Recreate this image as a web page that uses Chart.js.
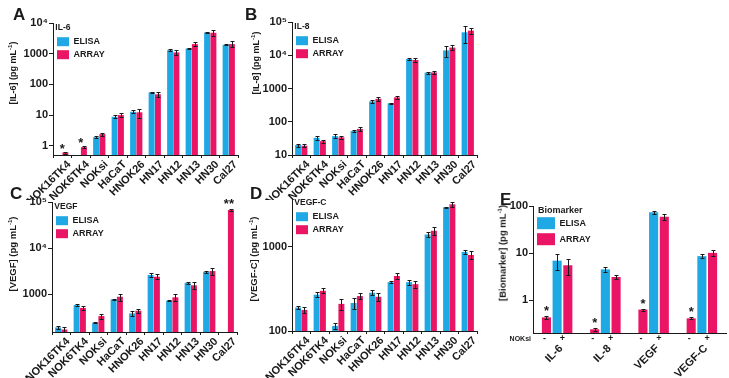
<!DOCTYPE html>
<html>
<head>
<meta charset="utf-8">
<script src="https://cdn.jsdelivr.net/npm/chart.js@4.4.1/dist/chart.umd.min.js"></script>
<style>
body { margin: 0; background: #fff; }
#wrap { position: relative; width: 729px; height: 378px; overflow: hidden; font-family: 'Liberation Sans', Arial, sans-serif; color: #1a1a1a; }
canvas { position: absolute; }
.lt { position: absolute; font-weight: bold; font-size: 17px; line-height: 1; }
.yt { position: absolute; font-weight: bold; white-space: nowrap; line-height: 1; transform: translate(-50%, -50%) rotate(-90deg); }
.yt sup { font-size: 6px; }
</style>
</head>
<body>
<div id="wrap">
  <canvas id="cA" width="245" height="200" style="left:0;top:0"></canvas>
  <canvas id="cB" width="240" height="200" style="left:245px;top:0"></canvas>
  <canvas id="cC" width="245" height="198" style="left:0;top:180px"></canvas>
  <canvas id="cD" width="240" height="198" style="left:245px;top:180px"></canvas>
  <canvas id="cE" width="239" height="198" style="left:490px;top:180px"></canvas>

  <div class="lt" style="left:13px;top:6px">A</div>
  <div class="lt" style="left:245px;top:6px">B</div>
  <div class="lt" style="left:10px;top:185px">C</div>
  <div class="lt" style="left:250px;top:185px">D</div>
  <div class="lt" style="left:500px;top:191px">E</div>

  <div class="yt" style="left:12px;top:73px;font-size:9px">[IL-6] (pg mL<sup>-1</sup>)</div>
  <div class="yt" style="left:255px;top:63px;font-size:9px">[IL-8] (pg mL<sup>-1</sup>)</div>
  <div class="yt" style="left:12px;top:254px;font-size:9.5px">[VEGF] (pg mL<sup>-1</sup>)</div>
  <div class="yt" style="left:253px;top:259px;font-size:9.5px">[VEGF-C] (pg mL<sup>-1</sup>)</div>
  <div class="yt" style="left:502px;top:253px;font-size:9.5px">[Biomarker] (pg mL<sup>-1</sup>)</div>
</div>
<script>
var cells = ["NOK16TK4", "NOK6TK4", "NOKsi", "HaCaT", "HNOK26", "HN17", "HN12", "HN13", "HN30", "Cal27"];

// A - IL-6
var il6Elisa = [null, null, 1.9, 8.8, 12.8, 55, 1310, 1480, 4900, 1950];
var il6ElisaErr = [null, null, 0.15, 1, 1.5, 3, 80, 60, 250, 100];
var il6Array = [0.6, 0.9, 2.4, 10, 12.3, 47.5, 1100, 2050, 4800, 2050];
var il6ArrayErr = [0.05, 0.08, 0.3, 1.5, 4, 8, 200, 300, 900, 450];

// B - IL-8
var il8Elisa = [20, 33, 37, 53, 410, 360, 7700, 3000, 14000, 49000];
var il8ElisaErr = [2, 5, 5, 4, 50, 15, 300, 200, 5000, 25000];
var il8Array = [19, 26, 34, 61, 490, 540, 7200, 3050, 17000, 55000];
var il8ArrayErr = [2, 3, 4, 8, 80, 60, 1000, 400, 3000, 10000];

// C - VEGF
var vegfElisa = [189, 576, 238, 768, 380, 2600, 716, 1760, 3050, null];
var vegfElisaErr = [12, 30, 8, 20, 40, 200, 15, 100, 200, null];
var vegfArray = [170, 500, 333, 875, 434, 2380, 850, 1550, 3160, 67000];
var vegfArrayErr = [20, 50, 40, 150, 40, 300, 150, 250, 500, 2000];

// D - VEGF-C
var vegfcElisa = [190, 270, 115, 215, 285, 380, 380, 1400, 2950, 870];
var vegfcElisaErr = [8, 20, 8, 30, 20, 10, 25, 100, 50, 40];
var vegfcArray = [178, 300, 210, 260, 255, 450, 360, 1550, 3200, 800];
var vegfcArrayErr = [15, 20, 30, 20, 30, 40, 35, 150, 250, 80];

// E - NOKsi -/+
var markers = ["IL-6", "IL-8", "VEGF", "VEGF-C"];
var minusArray = [0.43, 0.24, 0.63, 0.41];
var minusArrayErr = [0.04, 0.02, 0.03, 0.02];
var plusElisa = [6.9, 4.5, 74, 8.6];
var plusElisaErr = [2.5, 0.5, 6, 0.8];
var plusArray = [5.5, 3.1, 59, 10.1];
var plusArrayErr = [2, 0.3, 8, 1.5];

var decadeLabels = { "-1": "0.1", "0": "1", "1": "10", "2": "100", "3": "1000", "4": "10\u2074", "5": "10\u2075" };

var BLUE = '#1ea8e4';
var PINK = '#eb1565';
var FAM = "'Liberation Sans', Arial, sans-serif";
Chart.defaults.font.family = FAM;
Chart.defaults.color = '#1a1a1a';

function isDecade(v) {
    var l = Math.log10(v);
    return Math.abs(l - Math.round(l)) < 1e-9;
}

var errorBars = {
    id: 'errorBars',
    afterDatasetsDraw: function (chart) {
        var ctx = chart.ctx, y = chart.scales.y;
        ctx.save();
        ctx.strokeStyle = '#1a1a1a';
        ctx.lineWidth = 1;
        chart.data.datasets.forEach(function (ds, di) {
            if (!ds.errors) return;
            chart.getDatasetMeta(di).data.forEach(function (bar, i) {
                var v = ds.data[i], e = ds.errors[i];
                if (v == null || !e) return;
                var x = Math.round(bar.x) + 0.5;
                var t = Math.round(y.getPixelForValue(v + e)) + 0.5;
                var b = Math.round(y.getPixelForValue(Math.max(v - e, v * 0.2))) + 0.5;
                ctx.beginPath();
                ctx.moveTo(x, t); ctx.lineTo(x, b);
                ctx.moveTo(x - 2, t); ctx.lineTo(x + 2, t);
                ctx.moveTo(x - 2, b); ctx.lineTo(x + 2, b);
                ctx.stroke();
            });
        });
        ctx.restore();
    }
};

var stars = {
    id: 'stars',
    afterDatasetsDraw: function (chart, args, opts) {
        if (!opts.marks) return;
        var ctx = chart.ctx;
        ctx.save();
        ctx.fillStyle = '#1a1a1a';
        ctx.font = 'bold 13px ' + FAM;
        ctx.textAlign = 'center';
        ctx.textBaseline = 'alphabetic';
        opts.marks.forEach(function (m) {
            var bar = chart.getDatasetMeta(m.ds).data[m.i];
            ctx.fillText(m.text, bar.x + (m.dx || 0), bar.y + (m.dy || 0));
        });
        ctx.restore();
    }
};

function panel(id, d) {
    var datasets = d.series.map(function (s) {
        return {
            label: s.label, data: s.data, errors: s.errors,
            backgroundColor: s.color,
            categoryPercentage: d.cp, barPercentage: d.bp
        };
    });
    return new Chart(document.getElementById(id), {
        type: 'bar',
        data: { labels: d.labels, datasets: datasets },
        plugins: [errorBars, stars].concat(d.extra || []),
        options: {
            responsive: false,
            animation: false,
            layout: { padding: { top: d.top, right: d.right, left: 0, bottom: 0 } },
            plugins: {
                tooltip: { enabled: false },
                legend: {
                    position: 'chartArea', align: 'start',
                    title: { display: true, text: d.title, position: 'start', padding: { top: d.top, bottom: 0 }, color: '#1a1a1a',
                        font: { size: d.titleSize || 8.5, weight: 'bold', lineHeight: d.titleLH || 1.2 } },
                    labels: {
                        boxWidth: d.boxW || 12, boxHeight: d.boxH || 9, padding: 4, color: '#1a1a1a',
                        font: { size: 9, weight: 'bold' },
                        filter: function (item) { return item.text !== ''; }
                    }
                },
                stars: { marks: d.marks }
            },
            scales: {
                x: {
                    type: 'category', offset: true,
                    grid: { display: true, drawOnChartArea: false, drawTicks: d.xTicks !== false, tickLength: 3, color: '#1a1a1a', offset: true },
                    border: { display: true, color: '#1a1a1a', width: 1 },
                    ticks: { autoSkip: false, minRotation: 45, maxRotation: 45, padding: d.xPad || 0, labelOffset: d.labelOffset,
                        color: '#1a1a1a', font: { size: 11, weight: 'bold' } },
                    afterFit: function (s) { s.height = d.xH; }
                },
                y: {
                    type: 'logarithmic', min: d.min, max: d.max,
                    grid: { display: true, drawOnChartArea: false, tickLength: 4,
                        color: function (c) { return c.tick && isDecade(c.tick.value) ? '#1a1a1a' : 'rgba(0,0,0,0)'; } },
                    border: { display: true, color: '#1a1a1a', width: 1 },
                    ticks: {
                        autoSkip: false, padding: 1, color: '#1a1a1a', font: { size: 11, weight: 'bold' },
                        callback: function (v) {
                            return isDecade(v) ? decadeLabels[String(Math.round(Math.log10(v)))] : '';
                        }
                    },
                    afterFit: function (s) { s.width = d.yW; }
                }
            }
        }
    });
}

panel('cA', {
    labels: cells, title: ' IL-6', min: 0.5, max: 10000, top: 23, right: 7, yW: 53, xH: 45,
    cp: 0.68, bp: 0.95, labelOffset: 7,
    series: [
        { label: 'ELISA', data: il6Elisa, errors: il6ElisaErr, color: BLUE },
        { label: 'ARRAY', data: il6Array, errors: il6ArrayErr, color: PINK }
    ],
    marks: [{ ds: 1, i: 0, text: '*', dx: -3, dy: 0 }, { ds: 1, i: 1, text: '*', dx: -3, dy: 0 }]
});

panel('cB', {
    labels: cells, title: ' IL-8', min: 10, max: 100000, top: 22, right: 8, yW: 47, xH: 45,
    cp: 0.68, bp: 0.95, labelOffset: 7,
    series: [
        { label: 'ELISA', data: il8Elisa, errors: il8ElisaErr, color: BLUE },
        { label: 'ARRAY', data: il8Array, errors: il8ArrayErr, color: PINK }
    ]
});

panel('cC', {
    labels: cells, title: ' VEGF', min: 150, max: 100000, top: 22, right: 8, yW: 52, xH: 46,
    cp: 0.68, bp: 0.95, labelOffset: 7,
    series: [
        { label: 'ELISA', data: vegfElisa, errors: vegfElisaErr, color: BLUE },
        { label: 'ARRAY', data: vegfArray, errors: vegfArrayErr, color: PINK }
    ],
    marks: [{ ds: 1, i: 9, text: '**', dx: -2, dy: -2 }]
});

panel('cD', {
    labels: cells, title: ' VEGF-C', min: 100, max: 3800, top: 18, right: 8, yW: 47, xH: 47,
    cp: 0.68, bp: 0.95, labelOffset: 7,
    series: [
        { label: 'ELISA', data: vegfcElisa, errors: vegfcElisaErr, color: BLUE },
        { label: 'ARRAY', data: vegfcArray, errors: vegfcArrayErr, color: PINK }
    ]
});

var noksiSigns = {
    id: 'noksiSigns',
    afterDraw: function (chart) {
        var ctx = chart.ctx, area = chart.chartArea;
        var minus = chart.getDatasetMeta(0).data;
        var el = chart.getDatasetMeta(1).data, ar = chart.getDatasetMeta(2).data;
        var y = area.bottom + 6;
        ctx.save();
        ctx.fillStyle = '#1a1a1a';
        ctx.textBaseline = 'middle';
        ctx.font = 'bold 7px ' + FAM;
        ctx.textAlign = 'right';
        ctx.fillText('NOKsi', area.left - 2, y);
        ctx.textAlign = 'center';
        ctx.font = 'bold 9px ' + FAM;
        minus.forEach(function (b, i) {
            ctx.fillText('-', b.x - 2, y);
            ctx.fillText('+', (el[i].x + ar[i].x) / 2, y);
        });
        ctx.restore();
    }
};

panel('cE', {
    labels: markers, title: '  Biomarker', min: 0.2, max: 100, top: 26, right: 3, yW: 43, xH: 45,
    cp: 0.665, bp: 0.85, labelOffset: 4, xPad: 9, xTicks: false,
    titleSize: 9, titleLH: 0.8, boxW: 18, boxH: 12,
    series: [
        { label: '', data: minusArray, errors: minusArrayErr, color: PINK },
        { label: 'ELISA', data: plusElisa, errors: plusElisaErr, color: BLUE },
        { label: 'ARRAY', data: plusArray, errors: plusArrayErr, color: PINK }
    ],
    marks: [{ ds: 0, i: 0, text: '*', dy: -2 }, { ds: 0, i: 1, text: '*', dy: -2 },
        { ds: 0, i: 2, text: '*', dy: -2 }, { ds: 0, i: 3, text: '*', dy: -2 }],
    extra: [noksiSigns]
});
</script>
</body>
</html>
